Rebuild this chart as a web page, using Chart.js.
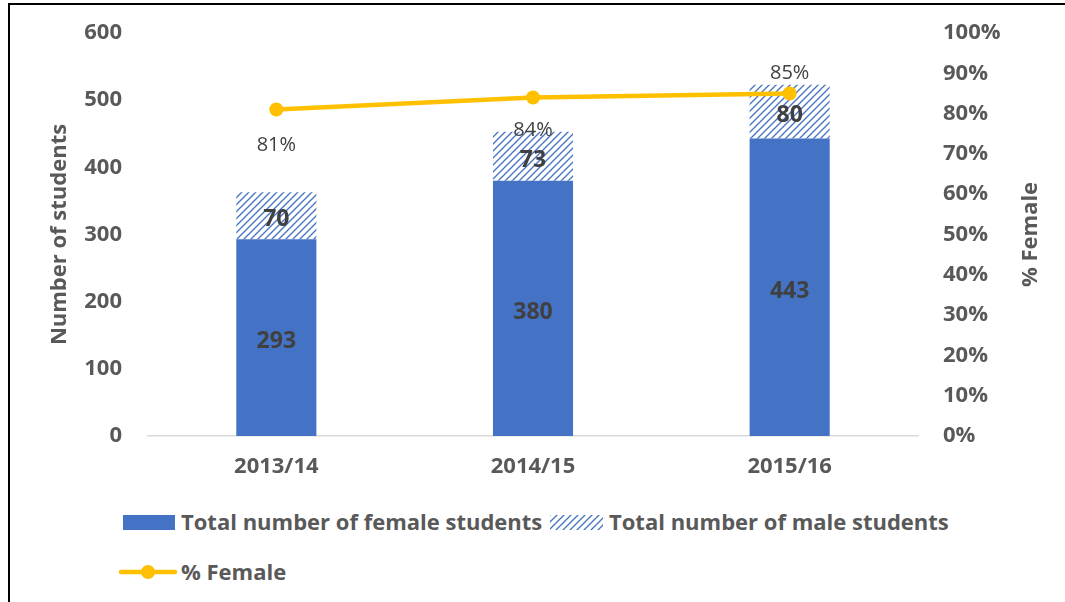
<!DOCTYPE html>
<html>
<head>
<meta charset="utf-8">
<script src="https://cdn.jsdelivr.net/npm/chart.js@4.4.0/dist/chart.umd.min.js"></script>
<style>
    body { margin: 0; background: #fff; overflow: hidden; font-family: "Open Sans", sans-serif; }
    .frame { position: absolute; left: 8px; top: 3px; width: 1200px; height: 800px; border: 2px solid #000; }
    #canvas { position: absolute; left: 0; top: 0; }
    .lg { position: absolute; font: bold 22px "Open Sans", sans-serif; color: #595959; line-height: 28px; white-space: nowrap; }
    .sw { position: absolute; }
</style>
</head>
<body>
<div class="frame"></div>
<canvas id="canvas" width="1065" height="490"></canvas>
<div class="sw" id="sw1" style="left:123px;top:515px;width:52px;height:15px;background:#4472C4"></div>
<div class="lg" style="left:181px;top:507px">Total number of female students</div>
<canvas class="sw" id="sw2" width="53" height="15" style="left:550px;top:515px"></canvas>
<div class="lg" style="left:609px;top:507px">Total number of male students</div>
<canvas class="sw" id="sw3" width="60" height="18" style="left:118px;top:563px"></canvas>
<div class="lg" style="left:181px;top:557px">% Female</div>
<script>
var years = ['2013/14', '2014/15', '2015/16'];
var femaleStudents = [293, 380, 443];
var maleStudents = [70, 73, 80];
var pctFemale = [0.81, 0.84, 0.85];

var blue = '#4472C4';
var gold = '#FFC000';
var textGrey = '#595959';
var labelGrey = '#404040';

function hatchPattern(ctx) {
    var c = document.createElement('canvas');
    c.width = 7; c.height = 7;
    var g = c.getContext('2d');
    g.fillStyle = '#fff';
    g.fillRect(0, 0, 7, 7);
    g.strokeStyle = blue;
    g.lineWidth = 1.3;
    g.beginPath();
    g.moveTo(0, 7); g.lineTo(7, 0);
    g.moveTo(-1, 1); g.lineTo(1, -1);
    g.moveTo(6, 8); g.lineTo(8, 6);
    g.stroke();
    return ctx.createPattern(c, 'repeat');
}

var ctx = document.getElementById('canvas').getContext('2d');
var hatch = hatchPattern(ctx);

// legend swatches
var s2 = document.getElementById('sw2').getContext('2d');
s2.fillStyle = hatchPattern(s2);
s2.fillRect(0, 0, 53, 15);
var s3 = document.getElementById('sw3').getContext('2d');
s3.strokeStyle = gold; s3.lineWidth = 4.5; s3.lineCap = 'round';
s3.beginPath(); s3.moveTo(3, 9); s3.lineTo(57, 9); s3.stroke();
s3.fillStyle = gold;
s3.beginPath(); s3.arc(30, 9, 7, 0, Math.PI * 2); s3.fill();

var tickFont = { family: 'Open Sans', size: 22, weight: 'bold' };
var pctOffsets = [36, 33, -20];

var labelPlugin = {
    id: 'valueLabels',
    afterDatasetsDraw: function(chart) {
        var c = chart.ctx;
        c.save();
        c.textAlign = 'center';
        c.textBaseline = 'middle';
        c.fillStyle = labelGrey;
        c.font = 'bold 23px "Open Sans"';
        [1, 2].forEach(function(di) {
            var meta = chart.getDatasetMeta(di);
            meta.data.forEach(function(bar, i) {
                var v = chart.data.datasets[di].data[i];
                c.fillText(v, bar.x, (bar.y + bar.base) / 2 + 4);
            });
        });
        c.font = '20px "Open Sans"';
        chart.getDatasetMeta(0).data.forEach(function(pt, i) {
            c.fillText(Math.round(pctFemale[i] * 100) + '%', pt.x, pt.y + pctOffsets[i]);
        });
        // right axis title, reads bottom to top
        var a = chart.chartArea;
        c.translate(1031, (a.top + a.bottom) / 2);
        c.rotate(-Math.PI / 2);
        c.font = 'bold 22px "Open Sans"';
        c.fillStyle = textGrey;
        c.fillText('% Female', 0, 0);
        c.restore();
    }
};

// tick padding would otherwise push the plot top down
function fixWidth(w) {
    return function(s) { s.width = w; s.paddingTop = 0; s.paddingBottom = 0; };
}

new Chart(ctx, {
    type: 'bar',
    data: {
        labels: years,
        datasets: [{
            type: 'line',
            label: '% Female',
            data: pctFemale,
            yAxisID: 'y1',
            borderColor: gold,
            backgroundColor: gold,
            borderWidth: 4.5,
            pointRadius: 7,
            pointBackgroundColor: gold,
            pointBorderWidth: 0,
            order: 0
        }, {
            label: 'Total number of female students',
            data: femaleStudents,
            backgroundColor: blue,
            stack: 's',
            categoryPercentage: 1,
            barPercentage: 0.312,
            order: 1
        }, {
            label: 'Total number of male students',
            data: maleStudents,
            backgroundColor: hatch,
            stack: 's',
            categoryPercentage: 1,
            barPercentage: 0.312,
            order: 1
        }]
    },
    options: {
        responsive: false,
        animation: false,
        layout: { padding: { left: 43, right: 18, top: 33, bottom: 0 } },
        plugins: { legend: { display: false }, tooltip: { enabled: false } },
        scales: {
            x: {
                stacked: true,
                grid: { display: false, drawTicks: false },
                border: { color: '#D9D9D9', width: 1.5 },
                ticks: { font: tickFont, color: textGrey, padding: 18 },
                afterFit: function(s) { s.height = 54; }
            },
            y: {
                stacked: true,
                min: 0, max: 600,
                grid: { display: false, drawTicks: false },
                border: { display: false },
                ticks: { stepSize: 100, font: tickFont, color: textGrey, padding: 26 },
                title: { display: true, text: 'Number of students', font: tickFont, color: textGrey },
                afterFit: fixWidth(105)
            },
            y1: {
                position: 'right',
                min: 0, max: 1,
                grid: { display: false, drawTicks: false },
                border: { display: false },
                ticks: {
                    stepSize: 0.1, font: tickFont, color: textGrey, padding: 25,
                    callback: function(v) { return Math.round(v * 100) + '%'; }
                },
                afterFit: fixWidth(129)
            }
        }
    },
    plugins: [labelPlugin]
});
</script>
</body>
</html>
